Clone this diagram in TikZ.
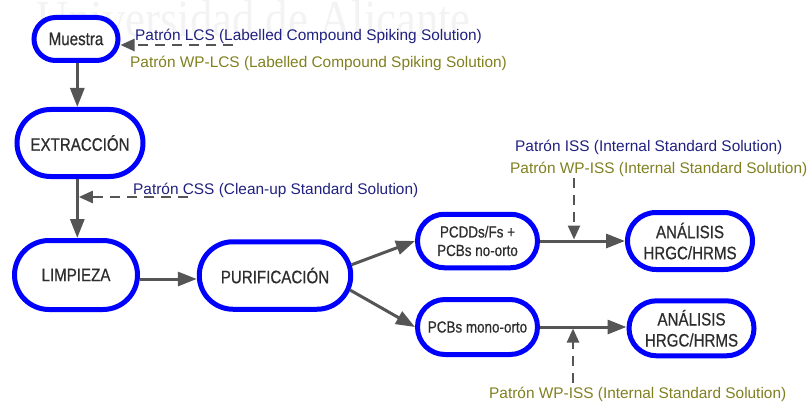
\documentclass[tikz,border=0pt]{standalone}
\usepackage{fontspec}
\setmainfont{Liberation Sans}
\newfontfamily\narrowfont[FakeStretch=0.84,FakeBold=0.6]{Liberation Sans}
\newfontfamily\wmfont[FakeStretch=0.86]{Liberation Serif}
\usetikzlibrary{arrows.meta,shapes.misc,calc}
\definecolor{boxblue}{RGB}{0,0,255}
\definecolor{txtgray}{RGB}{45,45,45}
\definecolor{linegray}{RGB}{85,85,85}
\definecolor{navytxt}{RGB}{32,32,128}
\definecolor{olivetxt}{RGB}{128,128,32}
\definecolor{wmgray}{RGB}{243,243,243}
\begin{document}
\begin{tikzpicture}[x=1pt,y=-1pt,
  stage/.style={rounded rectangle, draw=boxblue, line width=5pt, fill=white, text=txtgray, align=center, inner sep=0pt},
  big/.style={font=\narrowfont\fontsize{18}{21}\selectfont},
  small/.style={font=\narrowfont\fontsize{16}{18.5}\selectfont},
  flow/.style={draw=linegray, line width=3pt, -{Triangle[length=19pt,width=14pt]}},
  spike/.style={draw=linegray, line width=2.5pt, dash pattern=on 10pt off 7pt, -{Triangle[length=14pt,width=12pt]}},
  lab/.style={inner sep=0pt, anchor=base west, font=\fontsize{15.4}{18}\selectfont},
]
\useasboundingbox (0,0) rectangle (810,401);
\node[wmgray, inner sep=0pt, anchor=base west, font=\wmfont\fontsize{52}{52}\selectfont] (wm) at (36,37) {Universidad de Alicante};

\node[stage,big,minimum width=84pt,minimum height=43pt] (mue) at (76,39) {Muestra};
\node[stage,big,minimum width=126pt,minimum height=67pt] (ext) at (80,143) {EXTRACCIÓN};
\node[stage,big,minimum width=123pt,minimum height=69pt] (lim) at (76,275) {LIMPIEZA};
\node[stage,big,minimum width=151.5pt,minimum height=67.5pt] (pur) at (275,275.5) {PURIFICACIÓN};
\node[stage,small,minimum width=120pt,minimum height=53.5pt] (pcdd) at (477.5,241) {PCDDs/Fs +\\PCBs no-orto};
\node[stage,big,minimum width=125pt,minimum height=57pt] (ana1) at (690,241) {ANÁLISIS\\HRGC/HRMS};
\node[stage,small,minimum width=120pt,minimum height=55pt] (mono) at (477.5,327) {PCBs mono-orto};
\node[stage,big,minimum width=125pt,minimum height=55pt] (ana2) at (691.5,328.3) {ANÁLISIS\\HRGC/HRMS};

\coordinate (vx) at (77.3,0);
\coordinate (hy) at (0,279);
\draw[flow] (mue.south -| vx) -- (ext.north -| vx);
\draw[flow] (ext.south -| vx) -- (lim.north -| vx);
\draw[flow] (lim.east |- hy) -- (pur.west |- hy);
\draw[flow] (pur.8) -- (pcdd.west);
\draw[flow] (pur.-11) -- (mono.west);
\draw[flow] (pcdd.east) -- (ana1.west |- pcdd.east);
\draw[flow] (mono.east) -- (ana2.west |- mono.east);

\coordinate (lcs) at (233,45);
\draw[spike] (lcs) -- (lcs -| mue.east);
\coordinate (css) at (188,197);
\draw[spike] (css) -- ($(css -| vx)+(1.5,0)$);
\coordinate (iss) at (574,178);
\draw[spike] (iss) -- ($(iss |- pcdd.east)+(0,-1.5)$);
\coordinate (wiss) at (573,383);
\draw[spike] (wiss) -- ($(wiss |- mono.east)+(0,1.5)$);

\node[lab,navytxt] (llcs) at (135,41) {Patrón LCS (Labelled Compound Spiking Solution)};
\node[lab,olivetxt] (lwlcs) at (130,68) {Patrón WP-LCS (Labelled Compound Spiking Solution)};
\node[lab,navytxt] (lcss) at (133,194) {Patrón CSS (Clean-up Standard Solution)};
\node[lab,navytxt] (liss) at (515,151) {Patrón ISS (Internal Standard Solution)};
\node[lab,olivetxt] (lwiss) at (510,173) {Patrón WP-ISS (Internal Standard Solution)};
\node[lab,olivetxt] (lwiss2) at (489,398) {Patrón WP-ISS (Internal Standard Solution)};
\end{tikzpicture}
\end{document}
